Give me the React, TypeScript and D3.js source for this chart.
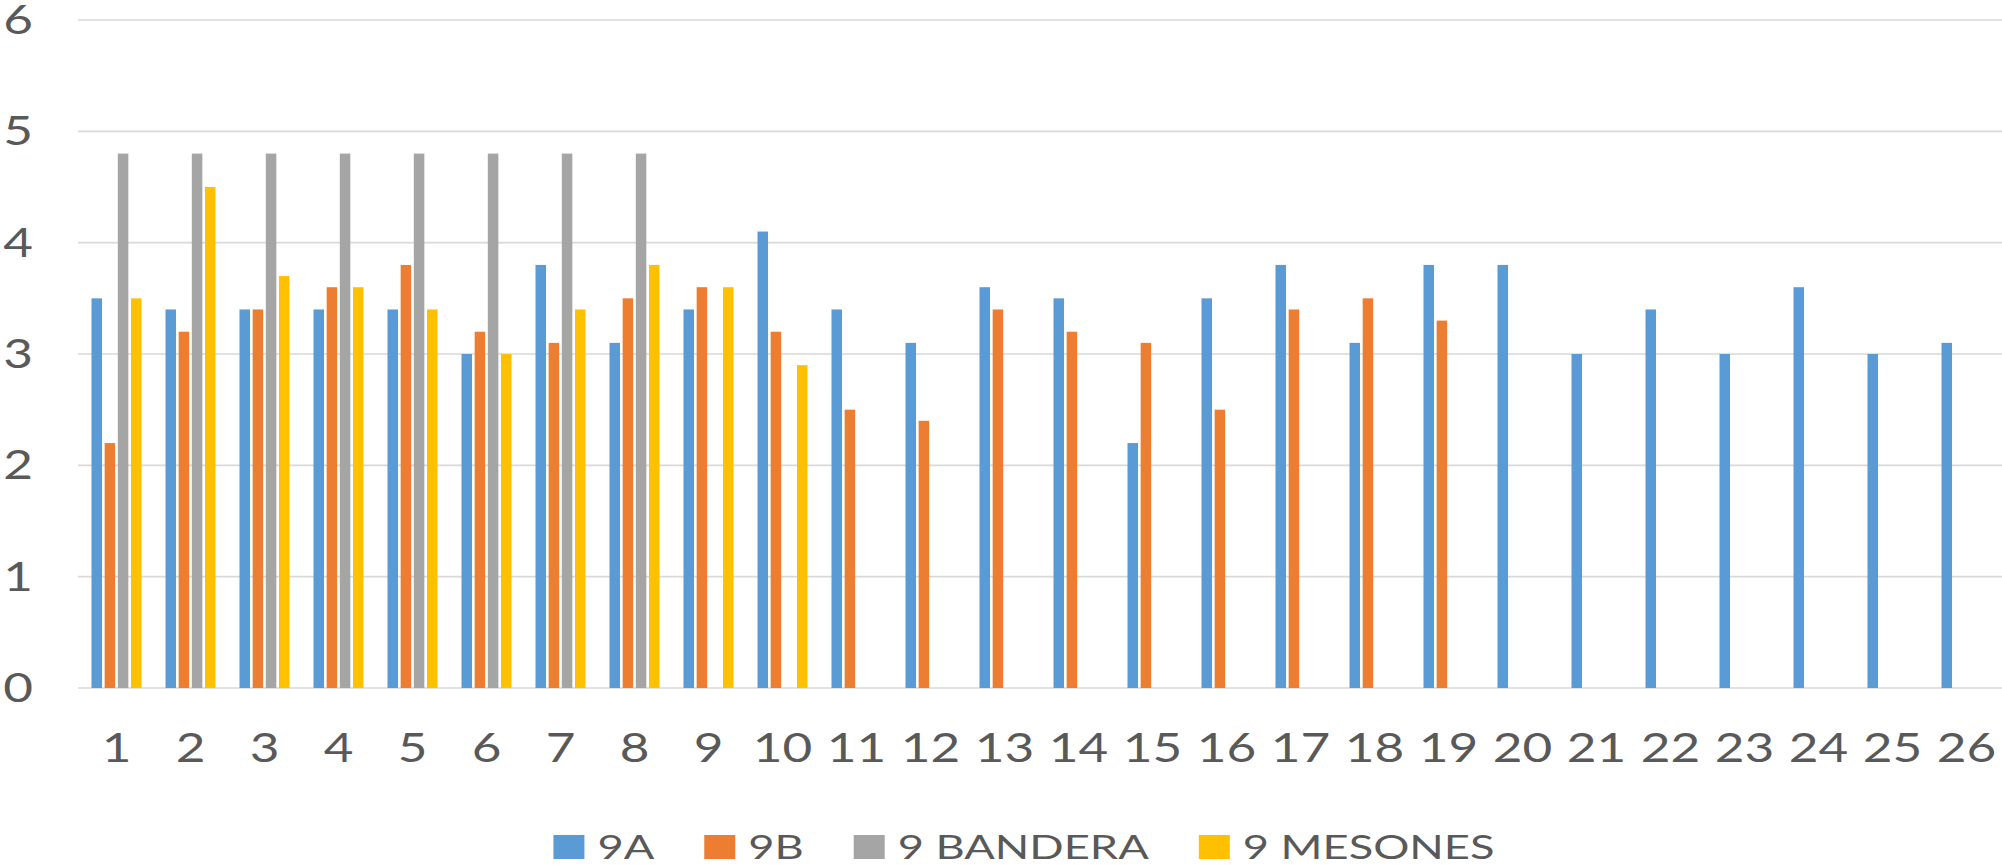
import React, { useMemo } from 'react';
import * as d3 from 'd3';

const categories = ['1','2','3','4','5','6','7','8','9','10','11','12','13','14','15','16','17','18','19','20','21','22','23','24','25','26'];
const seriesNames = ['9A', '9B', '9 BANDERA', '9 MESONES'];
const values9A = [3.5,3.4,3.4,3.4,3.4,3.0,3.8,3.1,3.4,4.1,3.4,3.1,3.6,3.5,2.2,3.5,3.8,3.1,3.8,3.8,3.0,3.4,3.0,3.6,3.0,3.1];
const values9B = [2.2,3.2,3.4,3.6,3.8,3.2,3.1,3.5,3.6,3.2,2.5,2.4,3.4,3.2,3.1,2.5,3.4,3.5,3.3,null,null,null,null,null,null,null];
const values9Bandera = [4.8,4.8,4.8,4.8,4.8,4.8,4.8,4.8,null,null,null,null,null,null,null,null,null,null,null,null,null,null,null,null,null,null];
const values9Mesones = [3.5,4.5,3.7,3.6,3.4,3.0,3.4,3.8,3.6,2.9,null,null,null,null,null,null,null,null,null,null,null,null,null,null,null,null];
const yTicks = [0, 1, 2, 3, 4, 5, 6];
const seriesColors = ['#5B9BD5', '#ED7D31', '#A5A5A5', '#FFC000'];

const W = 2002;
const H = 865;
const FONT = 'Lato, "Open Sans", sans-serif';
const TEXT_COLOR = '#595959';
const AXIS_FS = 41;
const AXIS_SX = 1.25;
const LEG_FS = 33;
const LEG_SX = 1.37;

export default function App() {
  const allSeries = [values9A, values9B, values9Bandera, values9Mesones];

  const x = d3.scaleBand<string>().domain(categories).range([79.5, 2003.5]).padding(0);
  const inner = d3.scaleBand<string>().domain(seriesNames).range([12, 62]).paddingInner(0.2);
  const y = d3.scaleLinear().domain([0, 6]).range([688, 20]);

  const legend = useMemo(() => {
    const canvas = document.createElement('canvas');
    const ctx = canvas.getContext('2d')!;
    ctx.font = `${LEG_FS}px ${FONT}`;
    const sqW = 31, gapText = 13, gapItem = 50;
    const items = seriesNames.map((name, i) => {
      const tw = ctx.measureText(name).width * LEG_SX;
      return { name, color: seriesColors[i], tw };
    });
    const total = items.reduce((s, it) => s + sqW + gapText + it.tw, 0) + gapItem * (items.length - 1);
    let cx = 1024 - total / 2;
    return items.map((it) => {
      const r = { ...it, sx: cx, tx: cx + sqW + gapText };
      cx += sqW + gapText + it.tw + gapItem;
      return r;
    });
  }, []);

  return (
    <svg width={W} height={H} style={{ position: 'absolute', left: 0, top: 0, background: '#fff' }} fontFamily={FONT}>
      <rect x={0} y={0} width={W} height={H} fill="#fff" />
      {yTicks.map((t) => (
        <g key={t}>
          <line x1={78} x2={W} y1={y(t)} y2={y(t)} stroke="#D9D9D9" strokeWidth={1.6} />
          <text
            transform={`translate(33,${y(t) + 14}) scale(${AXIS_SX},1)`}
            textAnchor="end"
            fontSize={AXIS_FS}
            fill={TEXT_COLOR}
          >
            {t}
          </text>
        </g>
      ))}
      {allSeries.map((vals, si) =>
        vals.map((v, ci) =>
          v == null ? null : (
            <rect
              key={`${si}-${ci}`}
              x={(x(categories[ci]) as number) + (inner(seriesNames[si]) as number)}
              y={y(v)}
              width={inner.bandwidth()}
              height={y(0) - y(v)}
              fill={seriesColors[si]}
            />
          )
        )
      )}
      {categories.map((c) => (
        <text
          key={c}
          transform={`translate(${(x(c) as number) + x.bandwidth() / 2},762) scale(${AXIS_SX},1)`}
          textAnchor="middle"
          fontSize={AXIS_FS}
          fill={TEXT_COLOR}
        >
          {c}
        </text>
      ))}
      {legend.map((it) => (
        <g key={it.name}>
          <rect x={it.sx} y={835} width={31} height={24} fill={it.color} />
          <text
            transform={`translate(${it.tx},858.5) scale(${LEG_SX},1)`}
            fontSize={LEG_FS}
            fill={TEXT_COLOR}
          >
            {it.name}
          </text>
        </g>
      ))}
    </svg>
  );
}
